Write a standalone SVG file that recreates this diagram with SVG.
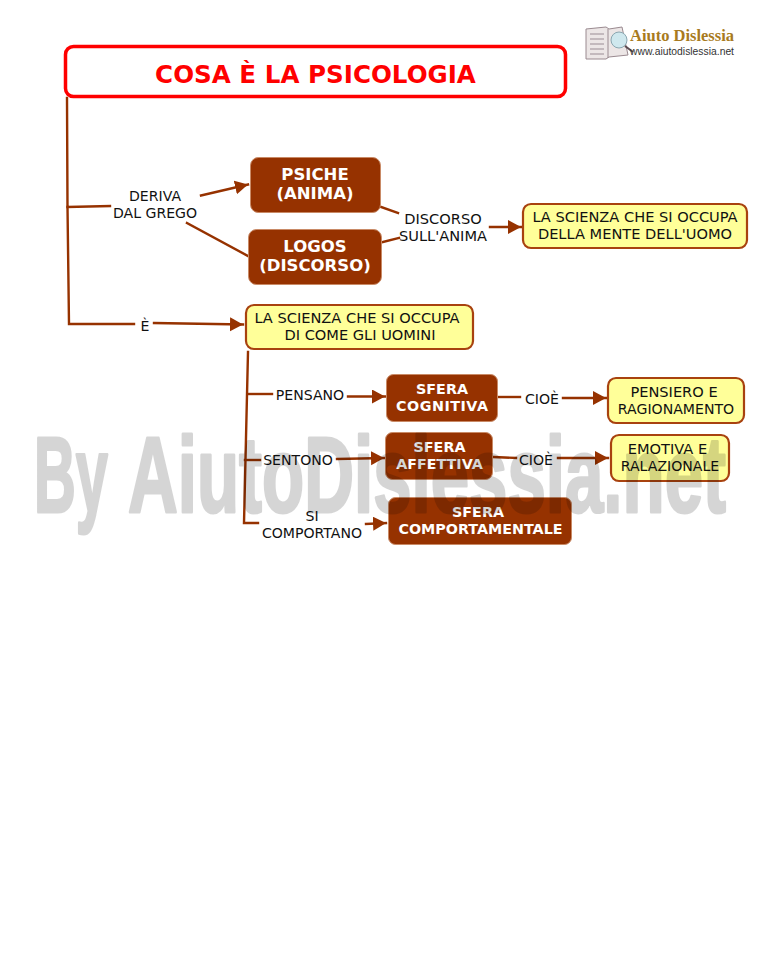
<svg xmlns="http://www.w3.org/2000/svg" width="759" height="975" viewBox="0 0 759 975">
<style>
text{font-family:"DejaVu Sans",Verdana,sans-serif;text-anchor:middle}
.l{font-size:14.100px;fill:#111}
.m{font-size:14.600px;fill:#111}
.w{font-size:14.300px;font-weight:bold;fill:#fff}
.b{font-size:16.500px}
.c{fill:none;stroke:#963200;stroke-width:2.400;stroke-linecap:square}
.br{fill:#963200;stroke:#c98a66;stroke-width:1}
.y{fill:#ffff99;stroke:#a8420f;stroke-width:2.200}
.wm{font-family:"Liberation Sans",Arial,sans-serif;font-size:107px;font-weight:bold;text-anchor:start;fill:#000;stroke:#000;stroke-width:3;stroke-linejoin:round}
</style>
<defs><marker id="a" markerUnits="userSpaceOnUse" markerWidth="15" markerHeight="15" refX="13" refY="7" orient="auto"><path d="M0 0L13 7L0 14z" fill="#963200"/></marker></defs>
<rect width="759" height="975" fill="#fff"/>
<g id="connectors">
<path class="c" d="M67 98L67.500 207L110 206"/>
<path class="c" d="M67.500 207L69 324L134 324"/>
<path class="c" d="M154 323L243 324.500" marker-end="url(#a)"/>
<path class="c" d="M201 195.500L248 184.500" marker-end="url(#a)"/>
<path class="c" d="M187 223L248 256"/>
<path class="c" d="M381 207L398 213"/>
<path class="c" d="M383 242L399 238"/>
<path class="c" d="M490 227L521 227" marker-end="url(#a)"/>
<path class="c" d="M248 352L244 523L258 523"/>
<path class="c" d="M248 394L272 394"/>
<path class="c" d="M245 460L260 460"/>
<path class="c" d="M348 396.500L385 396.500" marker-end="url(#a)"/>
<path class="c" d="M337 459L384 458" marker-end="url(#a)"/>
<path class="c" d="M366 524L386 523" marker-end="url(#a)"/>
<path class="c" d="M499 397L520 397"/>
<path class="c" d="M563 398L606 398" marker-end="url(#a)"/>
<path class="c" d="M494 457L516 458"/>
<path class="c" d="M558 458L608 458" marker-end="url(#a)"/>
</g>
<g id="title"><rect x="65.500" y="46.500" width="500" height="50" rx="8" fill="#fff" stroke="#f00" stroke-width="3.500"/><text x="315.500" y="83" font-size="24.600" font-weight="bold" fill="#f00">COSA È LA PSICOLOGIA</text></g>
<g id="psiche"><rect class="br" x="250.500" y="157.500" width="130" height="55" rx="8"/><text class="w b" x="315" y="180">PSICHE</text><text class="w b" x="315" y="199">(ANIMA)</text></g>
<g id="logos"><rect class="br" x="248.500" y="229.500" width="133" height="55" rx="8"/><text class="w b" x="315" y="252">LOGOS</text><text class="w b" x="315" y="271">(DISCORSO)</text></g>
<g id="deriva"><text class="l" x="155" y="201">DERIVA</text><text class="l" x="155" y="218">DAL GREGO</text></g>
<g id="discorso"><text class="m" x="443" y="224">DISCORSO</text><text class="m" x="443" y="241">SULL'ANIMA</text></g>
<g id="e"><text class="l" x="145" y="331">È</text></g>
<g id="scienza1"><rect class="y" x="523" y="204" width="224" height="44" rx="8"/><text class="m" x="635" y="222">LA SCIENZA CHE SI OCCUPA</text><text class="m" x="635" y="239">DELLA MENTE DELL'UOMO</text></g>
<g id="scienza2"><rect class="y" x="246" y="305" width="227" height="44" rx="8"/><text class="m" x="357" y="323">LA SCIENZA CHE SI OCCUPA</text><text class="m" x="360" y="340">DI COME GLI UOMINI</text></g>
<g id="pensano"><text class="l" x="310" y="400">PENSANO</text></g>
<g id="sentono"><text class="l" x="298" y="465">SENTONO</text></g>
<g id="comportano"><text class="l" x="312" y="521">SI</text><text class="l" x="312" y="538">COMPORTANO</text></g>
<g id="cognitiva"><rect class="br" x="386.500" y="374.500" width="111" height="47" rx="7"/><text class="w" x="442" y="394">SFERA</text><text class="w" x="442" y="411" textLength="92" lengthAdjust="spacing">COGNITIVA</text></g>
<g id="affettiva"><rect class="br" x="385.500" y="432.500" width="107" height="47" rx="7"/><text class="w" x="439.500" y="452">SFERA</text><text class="w" x="439.500" y="469">AFFETTIVA</text></g>
<g id="comportamentale"><rect class="br" x="388.500" y="497.500" width="183" height="47" rx="7"/><text class="w" x="478" y="517">SFERA</text><text class="w" x="480.500" y="534">COMPORTAMENTALE</text></g>
<g id="cioe1"><text class="l" x="542" y="404">CIOÈ</text></g>
<g id="cioe2"><text class="l" x="536" y="465">CIOÈ</text></g>
<g id="pensiero"><rect class="y" x="608" y="378" width="136" height="45" rx="8"/><text class="m" x="674" y="397">PENSIERO E</text><text class="l" x="676" y="414">RAGIONAMENTO</text></g>
<g id="emotiva"><rect class="y" x="611" y="435" width="118" height="46" rx="8"/><text class="m" x="667.500" y="454">EMOTIVA E</text><text class="l" x="670" y="471">RALAZIONALE</text></g>
<g id="logo">
<path d="M586 29L606 27L609 29L622 27L628 55L609 57L606 59L586 59z" fill="#ece6e6" stroke="#9a8a90"/>
<path d="M608 29V58" stroke="#9a8a90"/>
<path d="M590 34H604M590 39H604M590 44H604M590 49H604M590 54H604" stroke="#b5aab0" stroke-width="1.500"/>
<circle cx="619" cy="40" r="8" fill="#cfe8ee" stroke="#8aa6b0"/>
<path d="M625 46L633 52" stroke="#5a4a50" stroke-width="2"/>
<text x="682" y="41" font-size="16" font-weight="bold" fill="#a87a20" style="font-family:'Liberation Serif',serif" textLength="104" lengthAdjust="spacingAndGlyphs">Aiuto Dislessia</text>
<text x="682" y="55" font-size="10" fill="#333" style="font-family:'Liberation Sans',Arial,sans-serif" textLength="104" lengthAdjust="spacingAndGlyphs">www.aiutodislessia.net</text>
</g>
<g id="watermark" opacity=".16">
<text class="wm" x="34" y="512" textLength="74" lengthAdjust="spacingAndGlyphs">By</text>
<text class="wm" x="128" y="512" textLength="598" lengthAdjust="spacingAndGlyphs">AiutoDislessia.net</text>
</g>
</svg>
